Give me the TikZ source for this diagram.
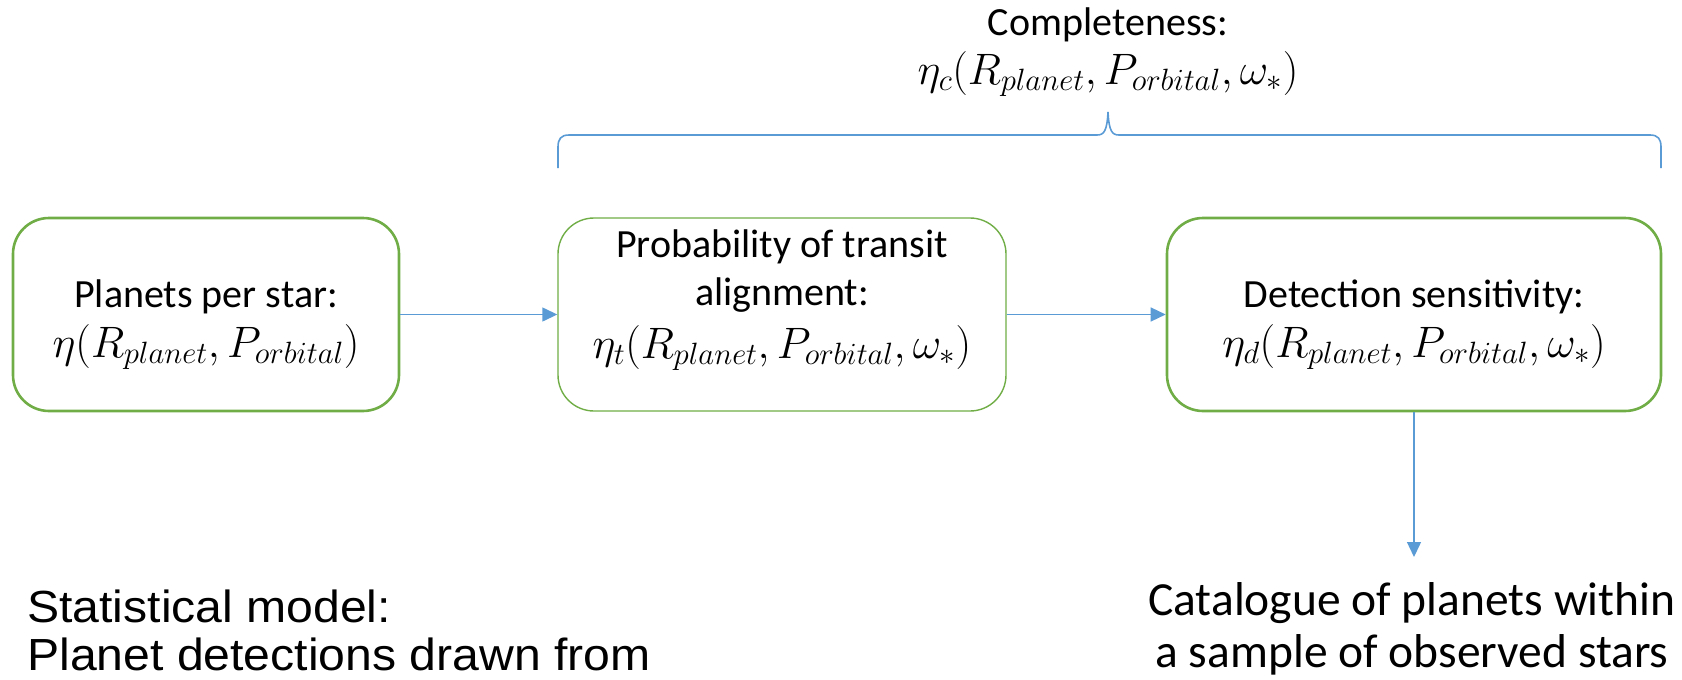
\RequirePackage{fix-cm}
\documentclass[tikz,border=0pt]{standalone}
\usepackage{fontspec}
\setmainfont{Carlito}
\newfontfamily\arialf[FakeStretch=1.07]{Liberation Sans}
\usetikzlibrary{arrows.meta}
\definecolor{boxgreen}{HTML}{70AD47}
\definecolor{arrblue}{HTML}{5B9BD5}
\tikzset{
  stagebox/.style={draw=boxgreen, line width=2.6pt, rounded corners=36pt, minimum height=193pt, inner sep=0pt},
  flow/.style={draw=arrblue, line width=1.4pt, -{Triangle[length=15pt,width=14pt]}},
  bracepath/.style={draw=arrblue, line width=1.6pt},
  lbl/.style={anchor=base, inner sep=0pt, font=\fontsize{40}{48}\selectfont},
  mth/.style={anchor=base, inner sep=0pt, font=\fontsize{44}{48}\selectfont},
  bigtxt/.style={anchor=base, inner sep=0pt, font=\fontsize{47.5}{52}\selectfont},
  armodel/.style={anchor=base west, inner sep=0pt, font=\arialf\fontsize{45}{48}\selectfont},
}
\begin{document}
\begin{tikzpicture}[x=1pt,y=-1pt]
\useasboundingbox (0,0) rectangle (1682,680);
% boxes
\node[stagebox, minimum width=386pt] (b1) at (206,314.5) {};
\node[stagebox, minimum width=448pt, line width=1.4pt] (b2) at (782,314.5) {};
\node[stagebox, minimum width=494pt] (b3) at (1414,314.5) {};
% box texts
\node[lbl] (t1a) at (206,307) {Planets per star:};
\node[mth] (t1b) at (206,357) {$\eta(R_{planet},P_{orbital})$};
\node[lbl] (t2a) at (782,257) {Probability of transit};
\node[lbl] (t2b) at (782,305) {alignment:};
\node[mth] (t2c) at (782,358) {$\eta_t(R_{planet},P_{orbital},\omega_{*})$};
\node[lbl] (t3a) at (1414,307) {Detection sensitivity:};
\node[mth] (t3b) at (1414,357) {$\eta_d(R_{planet},P_{orbital},\omega_{*})$};
% connectors
\draw[flow] (b1.east) -- (b2.west);
\draw[flow] (b2.east) -- (b3.west);
\coordinate (catTip) at (1414,557);
\draw[flow] (b3.south) -- (catTip);
% brace
\draw[bracepath] (558,168) -- (558,147) .. controls (558,139) and (561,135) .. (569,135) -- (1097,135) .. controls (1104,135) and (1107,131) .. (1108,112) .. controls (1109,131) and (1112,135) .. (1119,135) -- (1650,135) .. controls (1658,135) and (1661,139) .. (1661,147) -- (1661,168);
% completeness
\node[lbl] (ct) at (1108,35) {Completeness:};
\node[mth] (cf) at (1108,84) {$\eta_c(R_{planet},P_{orbital},\omega_{*})$};
% bottom texts
\node[armodel] (sm1) at (27,622) {Statistical model:};
\node[armodel] (sm2) at (27,670) {Planet detections drawn from};
\node[bigtxt] (cat1) at (1412,615) {Catalogue of planets within};
\node[bigtxt] (cat2) at (1412,667) {a sample of observed stars};
\end{tikzpicture}
\end{document}
